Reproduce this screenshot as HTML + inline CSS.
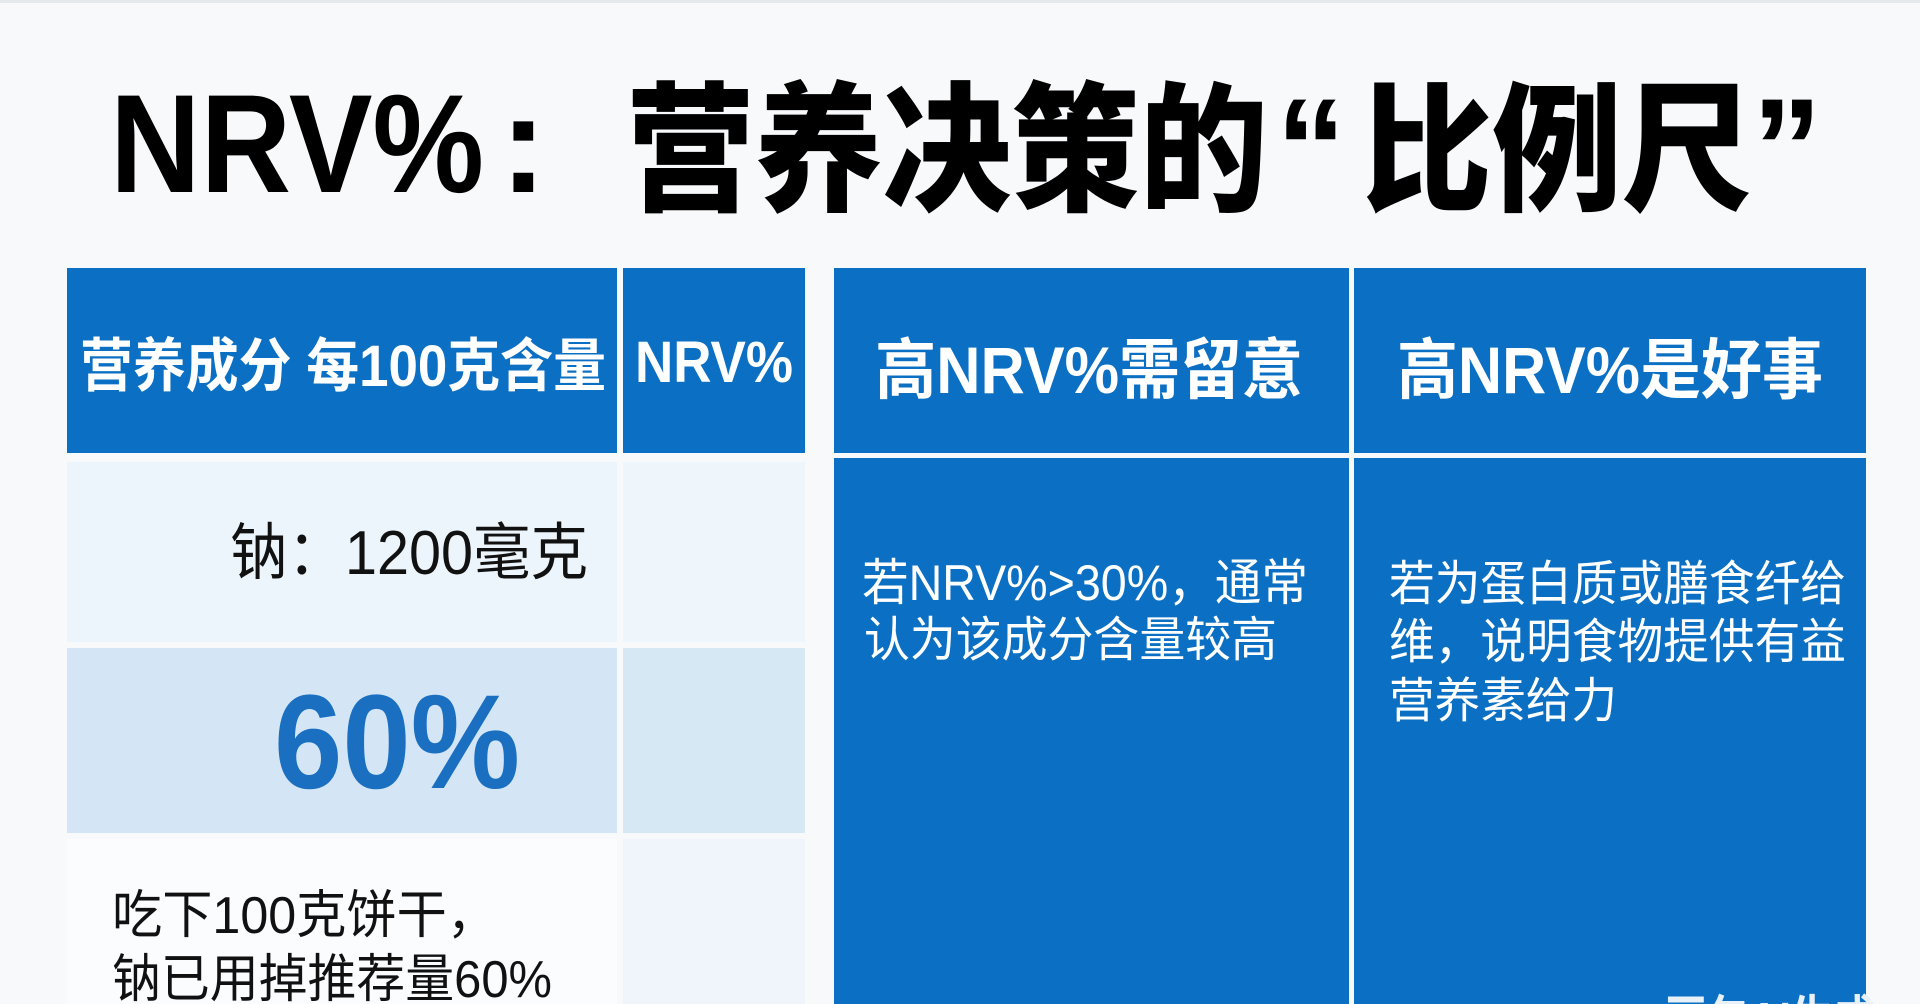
<!DOCTYPE html>
<html>
<head>
<meta charset="utf-8">
<style>
  html,body{margin:0;padding:0;background:#f7f9fb;}
  body{width:1920px;height:1004px;overflow:hidden;}
  svg{display:block;}
  text{font-family:"Liberation Sans","Noto Sans CJK SC",sans-serif;}
</style>
</head>
<body>
<svg width="1920" height="1004" viewBox="0 0 1920 1004" xmlns="http://www.w3.org/2000/svg">
  <rect x="0" y="0" width="1920" height="1004" fill="#f7f9fb"/>
  <rect x="0" y="0" width="1920" height="3" fill="#e6e9ec"/>

  <!-- Title -->
  <g fill="#000" font-weight="900">
    <text x="110" y="192" font-size="140" textLength="374" lengthAdjust="spacingAndGlyphs">NRV%</text>
    <text x="500" y="192" font-size="140">:</text>
    <text x="626" y="200" font-size="140" textLength="642" lengthAdjust="spacingAndGlyphs">营养决策的</text>
    <text x="1276" y="196" font-size="140">“</text>
    <text x="1362" y="200" font-size="140" textLength="390" lengthAdjust="spacingAndGlyphs">比例尺</text>
    <text x="1752" y="196" font-size="140">”</text>
  </g>

  <!-- Left table header -->
  <rect x="67" y="268" width="550" height="185" fill="#0b6fc3"/>
  <rect x="623" y="268" width="182" height="185" fill="#0b6fc3"/>
  <!-- Left table body -->
  <rect x="67" y="462" width="550" height="180" fill="#edf5fc"/>
  <rect x="623" y="462" width="182" height="180" fill="#eef5fb"/>
  <rect x="67" y="648" width="550" height="185" fill="#d4e6f5"/>
  <rect x="623" y="648" width="182" height="185" fill="#d7e8f5"/>
  <rect x="67" y="839" width="550" height="165" fill="#fbfcfe"/>
  <rect x="623" y="839" width="182" height="165" fill="#eff5fb"/>

  <!-- Right table -->
  <rect x="834" y="268" width="515" height="185" fill="#0b6fc3"/>
  <rect x="1354" y="268" width="512" height="185" fill="#0b6fc3"/>
  <rect x="834" y="458" width="515" height="546" fill="#0b6fc3"/>
  <rect x="1354" y="458" width="512" height="546" fill="#0b6fc3"/>

  <!-- Header texts -->
  <g fill="#ffffff" font-weight="700">
    <text x="80" y="386" font-size="58" textLength="526" lengthAdjust="spacingAndGlyphs">营养成分 每100克含量</text>
    <text x="635" y="382" font-size="58" textLength="158" lengthAdjust="spacingAndGlyphs">NRV%</text>
    <text x="875" y="393" font-size="66" textLength="428" lengthAdjust="spacingAndGlyphs">高NRV%需留意</text>
    <text x="1397" y="393" font-size="66" textLength="426" lengthAdjust="spacingAndGlyphs">高NRV%是好事</text>
  </g>

  <!-- Left body texts -->
  <text x="230" y="574" font-size="62" fill="#111" textLength="358" lengthAdjust="spacingAndGlyphs">钠：1200毫克</text>
  <text x="274" y="788" font-size="134" font-weight="700" fill="#1a6fc1" textLength="246" lengthAdjust="spacingAndGlyphs">60%</text>
  <text x="112" y="933" font-size="52" fill="#111" textLength="385" lengthAdjust="spacingAndGlyphs">吃下100克饼干，</text>
  <text x="112" y="997" font-size="52" fill="#111" textLength="440" lengthAdjust="spacingAndGlyphs">钠已用掉推荐量60%</text>

  <!-- Right body texts -->
  <g fill="#ffffff">
    <text x="862" y="600" font-size="50" textLength="446" lengthAdjust="spacingAndGlyphs">若NRV%&gt;30%，通常</text>
    <text x="864" y="656" font-size="48" textLength="413" lengthAdjust="spacingAndGlyphs">认为该成分含量较高</text>
    <text x="1389" y="600" font-size="48" textLength="457" lengthAdjust="spacingAndGlyphs">若为蛋白质或膳食纤给</text>
    <text x="1389" y="658" font-size="48" textLength="457" lengthAdjust="spacingAndGlyphs">维，说明食物提供有益</text>
    <text x="1389" y="717" font-size="48" textLength="228" lengthAdjust="spacingAndGlyphs">营养素给力</text>
  </g>

  <!-- Watermark (partially visible) -->
  <text x="1665" y="1040" font-size="54" font-weight="700" fill="#e8f0f8" textLength="210" lengthAdjust="spacingAndGlyphs">豆包AI生成</text>
</svg>
</body>
</html>
